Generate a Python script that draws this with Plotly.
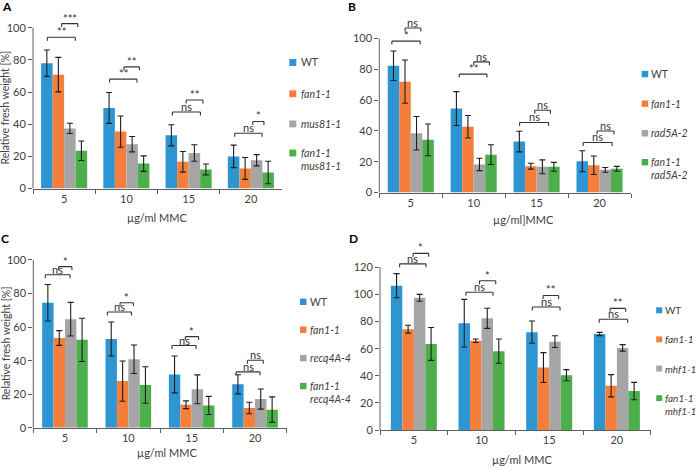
import plotly.graph_objects as go

W, H = 696, 471
FONT = "Lato"
TXT = "#404040"
AXC = "#5e5e5e"

doses = ["5", "10", "15", "20"]
colors = ["#2c95d2", "#f47e3b", "#a5a5a5", "#4caf4b"]

# ---- Panel A : mus81 ----
a_names = ["WT", "<i>fan1-1</i>", "<i>mus81-1</i>", "<i>fan1-1</i>", "<i>mus81-1</i>"]
a_wt = [77.9, 50.1, 33.1, 20.0]
a_wt_err = [8.2, 9.6, 6.6, 7.0]
a_fan1 = [70.8, 35.4, 16.6, 12.5]
a_fan1_err = [10.7, 9.7, 6.4, 6.8]
a_mus81 = [37.4, 27.6, 22.1, 17.6]
a_mus81_err = [3.2, 4.8, 5.1, 3.5]
a_double = [23.5, 15.5, 11.9, 10.0]
a_double_err = [6.1, 4.8, 3.4, 7.0]
a_sig = [["**", "***"], ["**", "**"], ["ns", "**"], ["ns", "*"]]

# ---- Panel B : rad5A ----
b_names = ["WT", "<i>fan1-1</i>", "<i>rad5A-2</i>", "<i>fan1-1</i>", "<i>rad5A-2</i>"]
b_wt = [82.3, 54.5, 33.1, 20.3]
b_wt_err = [9.6, 11.0, 6.7, 6.8]
b_fan1 = [72.0, 42.7, 17.1, 17.7]
b_fan1_err = [14.0, 7.3, 1.9, 6.0]
b_rad5a = [38.5, 18.2, 16.7, 14.7]
b_rad5a_err = [10.9, 4.0, 4.5, 1.5]
b_double = [34.2, 24.6, 16.7, 15.4]
b_double_err = [10.3, 6.4, 2.9, 1.6]
b_sig = [["*", "ns"], ["**", "ns"], ["ns", "ns"], ["ns", "ns"]]

# ---- Panel C : recq4A ----
c_names = ["WT", "<i>fan1-1</i>", "<i>recq4A-4</i>", "<i>fan1-1</i>", "<i>recq4A-4</i>"]
c_wt = [74.5, 52.9, 31.8, 25.9]
c_wt_err = [10.9, 10.1, 11.0, 5.7]
c_fan1 = [53.5, 27.8, 13.7, 11.8]
c_fan1_err = [4.4, 12.0, 2.3, 3.4]
c_recq4a = [64.7, 40.8, 22.9, 17.1]
c_recq4a_err = [10.0, 8.5, 8.6, 6.0]
c_double = [52.4, 25.5, 13.3, 10.8]
c_double_err = [12.9, 10.9, 5.4, 7.6]
c_sig = [["ns", "*"], ["ns", "*"], ["ns", "*"], ["ns", "ns"]]

# ---- Panel D : mhf1 ----
d_names = ["WT", "<i>fan1-1</i>", "<i>mhf1-1</i>", "<i>fan1-1</i>", "<i>mhf1-1</i>"]
d_wt = [106.4, 78.8, 72.2, 70.8]
d_wt_err = [8.9, 17.5, 8.2, 1.2]
d_fan1 = [74.4, 65.9, 46.1, 32.7]
d_fan1_err = [2.9, 1.3, 11.0, 8.2]
d_mhf1 = [97.5, 82.4, 65.2, 60.6]
d_mhf1_err = [2.5, 7.4, 4.3, 2.4]
d_double = [63.5, 58.2, 40.5, 28.8]
d_double_err = [12.1, 8.9, 4.1, 6.4]
d_sig = [["ns", "*"], ["ns", "*"], ["ns", "**"], ["ns", "**"]]

y_ticks_100 = [0, 20, 40, 60, 80, 100]
y_ticks_120 = [0, 20, 40, 60, 80, 100, 120]

# ---- layout geometry (pixels) ----
panels = [
    dict(letter="A", lpos=(7, 7), x0=33, x1=282, y0=191, s=1.63, ymax=110, ticks=y_ticks_100,
         w=0.185, names=a_names,
         series=[(a_wt, a_wt_err), (a_fan1, a_fan1_err), (a_mus81, a_mus81_err), (a_double, a_double_err)],
         sig=a_sig,
         br=[[(-0.27, 0.18, 94.0), (-0.04, 0.22, 102.5)],
             [(-0.27, 0.17, 68.0), (-0.04, 0.21, 75.6)],
             [(-0.26, 0.19, 47.6), (-0.04, 0.23, 55.0)],
             [(-0.26, 0.18, 34.4), (0.03, 0.21, 41.7)]],
         leg=dict(sx=289.3, tx=298.5, rows=[63.3, 95, 125.5, 155], row2=168.3, sq=7, fs=10.5),
         xt=("µg/ml MMC", 157, 220), yt=True),
    dict(letter="B", lpos=(352, 7), x0=379.3, x1=631, y0=195, s=1.56, ymax=112, ticks=y_ticks_100,
         w=0.183, names=b_names,
         series=[(b_wt, b_wt_err), (b_fan1, b_fan1_err), (b_rad5a, b_rad5a_err), (b_double, b_double_err)],
         sig=b_sig,
         br=[[(-0.30, 0.15, 98.3), (-0.09, 0.16, 106.8)],
             [(-0.23, 0.21, 76.9), (0.0, 0.25, 84.8)],
             [(-0.27, 0.19, 45.5), (-0.03, 0.22, 53.4)],
             [(-0.26, 0.20, 32.5), (-0.04, 0.23, 39.9)]],
         leg=dict(sx=641.7, tx=648.5, rows=[75, 105, 135, 164.3], row2=177.7, sq=6.5, fs=10.5),
         xt=("µg/ml]MMC", 523, 222), yt=False),
    dict(letter="C", lpos=(5, 241.5), x0=33.3, x1=286.7, y0=433.3, s=1.70, ymax=105, ticks=y_ticks_100,
         w=0.18, names=c_names,
         series=[(c_wt, c_wt_err), (c_fan1, c_fan1_err), (c_recq4a, c_recq4a_err), (c_double, c_double_err)],
         sig=c_sig,
         br=[[(-0.31, 0.08, 91.2), (-0.10, 0.11, 96.0)],
             [(-0.33, 0.05, 69.0), (-0.13, 0.08, 74.5)],
             [(-0.31, 0.07, 49.0), (-0.10, 0.11, 54.3)],
             [(-0.30, 0.08, 33.3), (-0.12, 0.13, 40.2)]],
         leg=dict(sx=300, tx=308, rows=[305.7, 334, 362.7, 391], row2=404, sq=6.5, fs=10.5),
         xt=("µg/ml MMC", 167, 458), yt=True),
    dict(letter="D", lpos=(353, 242), x0=380, x1=650.7, y0=435.7, s=1.375, ymax=135, ticks=y_ticks_120,
         w=0.17, names=d_names,
         series=[(d_wt, d_wt_err), (d_fan1, d_fan1_err), (d_mhf1, d_mhf1_err), (d_double, d_double_err)],
         sig=d_sig,
         br=[[(-0.21, 0.18, 122.5), (-0.01, 0.22, 130.2)],
             [(-0.23, 0.17, 101.6), (-0.03, 0.21, 110.1)],
             [(-0.25, 0.16, 90.7), (-0.09, 0.14, 99.2)],
             [(-0.26, 0.16, 81.7), (-0.10, 0.13, 89.7)]],
         leg=dict(sx=656.2, tx=662.5, rows=[314.3, 343.7, 373.3, 403.3], row2=416, sq=6, fs=10),
         xt=("µg/ml MMC", 522, 465), yt=False),
]

fig = go.Figure()
shapes = []
annotations = []

for k, p in enumerate(panels):
    sfx = "" if k == 0 else str(k + 1)
    xa, ya = "x" + sfx, "y" + sfx
    w = p["w"]
    for i, (vals, errs) in enumerate(p["series"]):
        fig.add_trace(go.Bar(
            x=doses, y=vals, width=w, offset=(i - 2) * w,
            marker=dict(color=colors[i], line=dict(width=0)),
            error_y=dict(type="data", array=errs, color="#1e1e1e", thickness=1.1, width=3),
            name=p["names"][i].replace("<i>", "").replace("</i>", ""),
            showlegend=False, xaxis=xa, yaxis=ya))
    top_px = p["y0"] - p["ymax"] * p["s"]
    layx = dict(domain=[p["x0"] / W, p["x1"] / W], type="category", range=[-0.5, 3.5],
                showline=True, linecolor=AXC, linewidth=1, ticks="outside", tickson="boundaries",
                ticklen=4, tickcolor=AXC, showgrid=False, zeroline=False, anchor=ya,
                tickfont=dict(family=FONT, size=11, color=TXT), fixedrange=True)
    layy = dict(domain=[1 - p["y0"] / H, 1 - top_px / H], range=[0, p["ymax"]],
                showline=False, ticks="outside", ticklen=4, tickcolor=AXC, tickvals=p["ticks"],
                showgrid=False, zeroline=False, anchor=xa,
                tickfont=dict(family=FONT, size=11, color=TXT), fixedrange=True)
    fig.update_layout(**{"xaxis" + sfx: layx, "yaxis" + sfx: layy})
    # y axis line only up to the last tick
    shapes.append(dict(type="line", xref=xa + " domain", yref=ya, x0=0, x1=0, y0=0, y1=p["ticks"][-1],
                       line=dict(color=AXC, width=1)))
    # significance brackets
    d = 3.5 / p["s"]
    for g in range(4):
        for j, (o0, o1, yb) in enumerate(p["br"][g]):
            xs0, xs1 = g + o0, g + o1
            for (ax0, ay0, ax1, ay1) in [(xs0, yb - d, xs0, yb), (xs0, yb, xs1, yb), (xs1, yb, xs1, yb - d)]:
                shapes.append(dict(type="line", xref=xa, yref=ya, x0=ax0, y0=ay0, x1=ax1, y1=ay1,
                                   line=dict(color="#333333", width=1.1)))
            annotations.append(dict(xref=xa, yref=ya, x=(xs0 + xs1) / 2, y=yb, text=p["sig"][g][j],
                                    showarrow=False, yanchor="bottom", yshift=-3,
                                    font=dict(family=FONT, size=11, color="#333333")))
    # legend (squares + labels)
    lg = p["leg"]
    for i in range(4):
        cy = lg["rows"][i]
        shapes.append(dict(type="rect", xref="paper", yref="paper",
                           x0=lg["sx"] / W, x1=(lg["sx"] + lg["sq"]) / W,
                           y0=1 - (cy + lg["sq"] / 2) / H, y1=1 - (cy - lg["sq"] / 2) / H,
                           fillcolor=colors[i], line=dict(width=0)))
        annotations.append(dict(xref="paper", yref="paper", x=lg["tx"] / W, y=1 - cy / H,
                                text=p["names"][i], showarrow=False, xanchor="left", yanchor="middle",
                                font=dict(family=FONT, size=lg["fs"], color=TXT)))
    annotations.append(dict(xref="paper", yref="paper", x=lg["tx"] / W, y=1 - lg["row2"] / H,
                            text=p["names"][4], showarrow=False, xanchor="left", yanchor="middle",
                            font=dict(family=FONT, size=lg["fs"], color=TXT)))
    # x title
    t, tx, ty = p["xt"]
    annotations.append(dict(xref="paper", yref="paper", x=tx / W, y=1 - ty / H, text=t,
                            showarrow=False, xanchor="center", yanchor="middle",
                            font=dict(family=FONT, size=11, color=TXT)))
    # y title
    if p["yt"]:
        cy = (p["y0"] + (p["y0"] - 100 * p["s"])) / 2
        annotations.append(dict(xref="paper", yref="paper", x=5.5 / W, y=1 - cy / H,
                                text="Relative fresh weight [%]", textangle=-90, showarrow=False,
                                xanchor="center", yanchor="middle",
                                font=dict(family=FONT, size=10.5, color=TXT)))
    # panel letter
    lx, ly = p["lpos"]
    annotations.append(dict(xref="paper", yref="paper", x=lx / W, y=1 - ly / H, text="<b>%s</b>" % p["letter"],
                            showarrow=False, xanchor="center", yanchor="middle",
                            font=dict(family=FONT, size=12, color="#000000")))

fig.update_layout(width=W, height=H, margin=dict(l=0, r=0, t=0, b=0),
                  paper_bgcolor="white", plot_bgcolor="white", barmode="overlay",
                  showlegend=False, shapes=shapes, annotations=annotations)

fig.write_html("out.html", config={"displayModeBar": False},
               post_script="document.body.style.margin='0';document.body.style.overflow='hidden';")
